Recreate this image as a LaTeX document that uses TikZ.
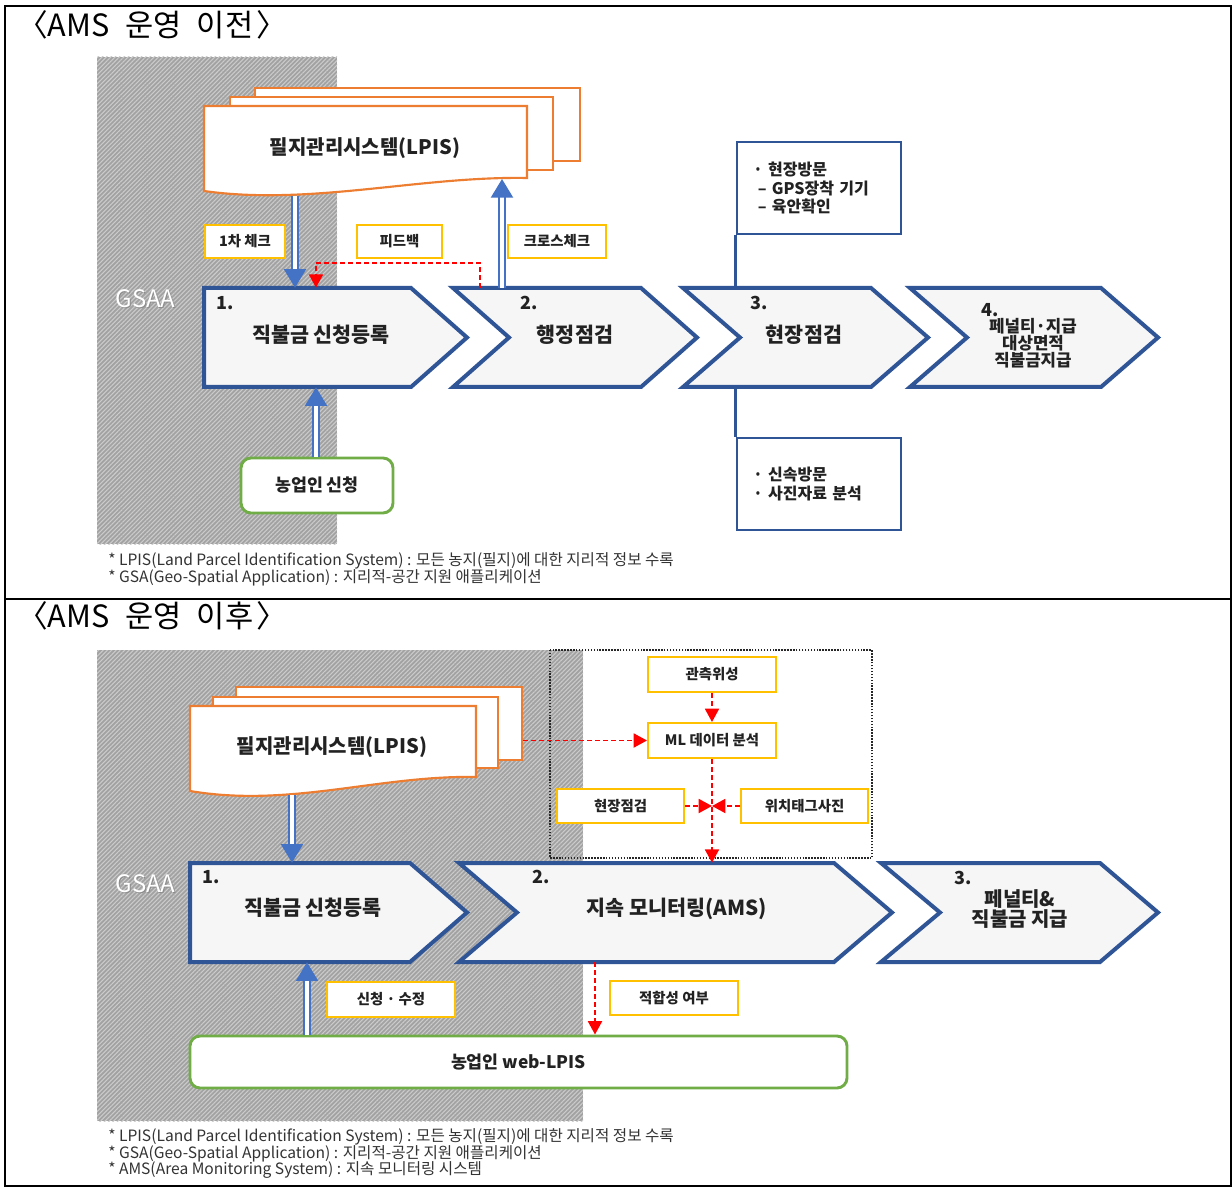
\documentclass[tikz,border=0pt]{standalone}
\usepackage{fontspec}
\setmainfont{Noto Sans CJK KR}
\usetikzlibrary{arrows.meta,patterns.meta,calc,fit}

\definecolor{chevblue}{HTML}{2F5597}
\definecolor{arrblue}{HTML}{4472C4}
\definecolor{lpisorange}{HTML}{ED7D31}
\definecolor{tagyellow}{HTML}{FFC000}
\definecolor{farmgreen}{HTML}{70AD47}
\definecolor{hatchbg}{HTML}{A2A2A2}
\definecolor{hatchln}{HTML}{CBCBCB}
\definecolor{chevfill}{HTML}{F6F6F7}
\definecolor{txtdark}{HTML}{222222}

% one pixel of the layout grid
\newcommand\pxu{0.75pt}

\tikzset{
  hatch/.style={fill=hatchbg, postaction={pattern={Lines[angle=45,distance=2.3pt,line width=0.8pt]}, pattern color=hatchln}},
  sheet/.style={draw=lpisorange, line width=1.6pt, fill=white},
  lpistext/.style={font=\fontsize{15pt}{17pt}\selectfont\bfseries, text=txtdark},
  chev/.style={draw=chevblue, line width=3pt, fill=chevfill, line join=miter},
  fitbox/.style={inner sep=0pt, draw=none},
  chevnum/.style={font=\fontsize{13.5pt}{15pt}\selectfont\bfseries, text=txtdark},
  chevtext/.style={font=\fontsize{15.5pt}{17pt}\selectfont\bfseries, text=txtdark, align=center},
  tag/.style={draw=tagyellow, line width=1.5pt, fill=white, inner sep=0pt,
    font=\fontsize{10.8pt}{12pt}\selectfont\bfseries, text=txtdark},
  farmbox/.style={draw=farmgreen, line width=2.2pt, fill=white, rounded corners=7.5pt, inner sep=0pt,
    font=\fontsize{13pt}{15pt}\selectfont\bfseries, text=txtdark},
  sidebox/.style={draw=chevblue, line width=2.2pt, fill=white, inner xsep=16*\pxu, inner ysep=0pt,
    align=left, font=\fontsize{12pt}{13.6pt}\selectfont\bfseries, text=txtdark},
  sideline/.style={draw=chevblue, line width=1.8pt},
  dbl/.style={draw=arrblue, line width=1.7pt, double=white, double distance=2.4pt,
    -{Triangle[length=14pt,width=16.5pt]}},
  reddash/.style={draw=red, line width=1.4pt, dash pattern=on 3.5pt off 2.5pt,
    -{Triangle[length=10pt,width=10.5pt]}},
  foot/.style={anchor=west, font=\fontsize{11.7pt}{13pt}\selectfont, text=black!80, inner sep=0pt},
  title/.style={anchor=west, font=\fontsize{23pt}{26pt}\selectfont, text=black, inner sep=0pt},
  gsaa/.style={font=\fontsize{18pt}{20pt}\selectfont, inner sep=0pt},
}

\begin{document}
\begin{tikzpicture}[x=0.75pt,y=-0.75pt]
\useasboundingbox (0,0) rectangle (1232,1187);
\fill[white] (0,0) rectangle (1232,1187);

% table frame with two rows
\draw[line width=1pt] (5,6) rectangle (1231,1186);
\draw[line width=1pt] (5,599) -- (1231,599);

% ================= upper row =================
\node[title] (ttlA) at (17,25) {〈AMS\hspace{0.5em}운영\hspace{0.5em}이전\hspace{0.1em}〉};

\fill[hatch] (97,57) rectangle (337,544);
\node[gsaa, text=black!45] at (146.5,299.5) {GSAA};
\node[gsaa, text=white] (gsaaA) at (145.5,298.5) {GSAA};

% LPIS document stack
\node[sheet, minimum width=325*\pxu, minimum height=73*\pxu] (lpisAback) at (417.5,124.5) {};
\node[sheet, minimum width=323*\pxu, minimum height=73*\pxu] (lpisAmid) at (391.5,133.5) {};
\filldraw[sheet] (204,106) -- (527,106) -- (527,178)
  .. controls (420,176) and (310,206) .. (204,191) -- cycle;
\node[fitbox, fit={(204,106)(527,196)}] (lpisA) {};
\node[lpistext] (lpisAt) at (365,148) {필지관리시스템(LPIS)};
\coordinate (lpisAwave) at (502,179);

% process chevrons
\filldraw[chev] (204,288) -- (411,288) -- (467,337.5) -- (411,387) -- (204,387) -- cycle;
\filldraw[chev] (453,288) -- (641,288) -- (697,337.5) -- (641,387) -- (453,387) -- (509,337.5) -- cycle;
\filldraw[chev] (683,288) -- (871,288) -- (928,337.5) -- (871,387) -- (683,387) -- (740,337.5) -- cycle;
\filldraw[chev] (910,288) -- (1101,288) -- (1158,337.5) -- (1101,387) -- (910,387) -- (967,337.5) -- cycle;
\node[fitbox, fit={(204,288)(467,387)}] (t1) {};
\node[fitbox, fit={(453,288)(697,387)}] (t2) {};
\node[fitbox, fit={(683,288)(928,387)}] (t3) {};
\node[fitbox, fit={(910,288)(1158,387)}] (t4) {};

\node[chevnum] (t1n) at (225,303) {1.};
\node[chevtext] (t1t) at (321,335) {직불금 신청등록};
\node[chevnum] (t2n) at (529,303) {2.};
\node[chevtext] (t2t) at (575,335) {행정점검};
\node[chevnum] (t3n) at (759,303) {3.};
\node[chevtext] (t3t) at (804,335) {현장점검};
\node[chevnum] (t4n) at (990,310) {4.};
\node[chevtext, font=\fontsize{12.6pt}{10.2pt}\selectfont\bfseries] (t4t) at (1033,343.5)
  {페널티·지급\\대상면적\\직불금지급};

% labels on the links
\node[tag, minimum width=80*\pxu, minimum height=33*\pxu] (chk1) at (245,241.5) {1차 체크};
\node[tag, minimum width=85*\pxu, minimum height=33*\pxu] (fdbk) at (399.5,241.5) {피드백};
\node[tag, minimum width=98*\pxu, minimum height=33*\pxu] (xchk) at (557,241.5) {크로스체크};

% field-inspection detail boxes
\node[sidebox, text width=132*\pxu, minimum height=92*\pxu] (visA) at (819,188)
  {· 현장방문\\\hspace*{0.3em}– GPS장착 기기\\\hspace*{0.3em}– 육안확인};
\node[sidebox, text width=132*\pxu, minimum height=92*\pxu] (visB) at (819,484)
  {· 신속방문\\· 사진자료 분석};
\draw[sideline] (visA.south west) -- (t3.north -| visA.south west);
\draw[sideline] (t3.south -| visB.north west) -- (visB.north west);

% farmer application
\node[farmbox, minimum width=152*\pxu, minimum height=55*\pxu] (farmA) at (317,485.5) {농업인 신청};

% connectors
\draw[dbl] (lpisA.south -| 295,0) -- (t1.north -| 295,0);
\draw[dbl] (t2.north -| 502,0) -- (lpisAwave);
\draw[dbl] (farmA.north -| 316,0) -- (t1.south -| 316,0);
\draw[reddash] (t2.north -| 480,0) |- (316,263) -- (t1.north -| 316,0);

\node[foot] (fnA1) at (108,561) {* LPIS(Land Parcel Identification System) : 모든 농지(필지)에 대한 지리적 정보 수록};
\node[foot] (fnA2) at (108,578) {* GSA(Geo-Spatial Application) : 지리적-공간 지원 애플리케이션};

% ================= lower row =================
\node[title] (ttlB) at (17,616) {〈AMS\hspace{0.5em}운영\hspace{0.5em}이후\hspace{0.1em}〉};

\fill[hatch] (97,650) rectangle (583,1121);
\node[gsaa, text=black!45] at (146.5,885) {GSAA};
\node[gsaa, text=white] (gsaaB) at (145.5,884) {GSAA};

% monitoring inputs (dotted frame)
\draw[line width=1.3pt, black!85, dash pattern=on 1.1pt off 1.1pt] (550,650) rectangle (872,858);

% LPIS document stack
\node[sheet, minimum width=286*\pxu, minimum height=73*\pxu] (lpisBback) at (379,723.5) {};
\node[sheet, minimum width=285*\pxu, minimum height=71*\pxu] (lpisBmid) at (355.5,732.5) {};
\filldraw[sheet] (190,706) -- (476,706) -- (476,777)
  .. controls (380,775) and (290,808) .. (190,791) -- cycle;
\node[fitbox, fit={(190,706)(476,795)}] (lpisB) {};
\node[lpistext] (lpisBt) at (332,747) {필지관리시스템(LPIS)};

\node[tag, minimum width=128*\pxu, minimum height=35*\pxu] (sat) at (712,674.5) {관측위성};
\node[tag, minimum width=128*\pxu, minimum height=35*\pxu] (ml) at (712,740.5) {ML 데이터 분석};
\node[tag, minimum width=127*\pxu, minimum height=34*\pxu] (field) at (620.5,806) {현장점검};
\node[tag, minimum width=127*\pxu, minimum height=34*\pxu] (geotag) at (804.5,806) {위치태그사진};

% process chevrons
\filldraw[chev] (190,863) -- (410,863) -- (467,912.5) -- (410,962) -- (190,962) -- cycle;
\filldraw[chev] (459,863) -- (834,863) -- (892,912.5) -- (834,962) -- (459,962) -- (517,912.5) -- cycle;
\filldraw[chev] (881,863) -- (1100,863) -- (1158,912.5) -- (1100,962) -- (881,962) -- (940,912.5) -- cycle;
\node[fitbox, fit={(190,863)(467,962)}] (b1) {};
\node[fitbox, fit={(459,863)(892,962)}] (b2) {};
\node[fitbox, fit={(881,863)(1158,962)}] (b3) {};

\node[chevnum] (b1n) at (211,877) {1.};
\node[chevtext] (b1t) at (313,908) {직불금 신청등록};
\node[chevnum] (b2n) at (541,877) {2.};
\node[chevtext] (b2t) at (677,909) {지속 모니터링(AMS)};
\node[chevnum] (b3n) at (963,878) {3.};
\node[chevtext, font=\fontsize{15pt}{14pt}\selectfont\bfseries] (b3t) at (1020,909)
  {페널티\&\\직불금 지급};

% farmer web-LPIS
\node[farmbox, minimum width=657*\pxu, minimum height=52*\pxu] (web) at (518.5,1062) {농업인 web-LPIS};
\node[tag, minimum width=128*\pxu, minimum height=35*\pxu] (apply) at (391,999.5) {신청 · 수정};
\node[tag, minimum width=128*\pxu, minimum height=34*\pxu] (suit) at (674,998) {적합성 여부};

% connectors
\draw[dbl] (lpisB.south -| 292,0) -- (b1.north -| 292,0);
\draw[dbl] (web.north -| 307,0) -- (b1.south -| 307,0);
\draw[reddash] (lpisBback.east |- ml.west) -- (ml.west);
\draw[reddash] (sat.south) -- (ml.north);
\draw[reddash] (ml.south) -- (b2.north -| ml.south);
\draw[reddash] (field.east) -- (field.east -| ml.south);
\draw[reddash] (geotag.west) -- (geotag.west -| ml.south);
\draw[reddash] (b2.south -| 595,0) -- (web.north -| 595,0);

\node[foot] (fnB1) at (108,1137) {* LPIS(Land Parcel Identification System) : 모든 농지(필지)에 대한 지리적 정보 수록};
\node[foot] (fnB2) at (108,1153.5) {* GSA(Geo-Spatial Application) : 지리적-공간 지원 애플리케이션};
\node[foot] (fnB3) at (108,1170) {* AMS(Area Monitoring System) : 지속 모니터링 시스템};
\end{tikzpicture}
\end{document}
